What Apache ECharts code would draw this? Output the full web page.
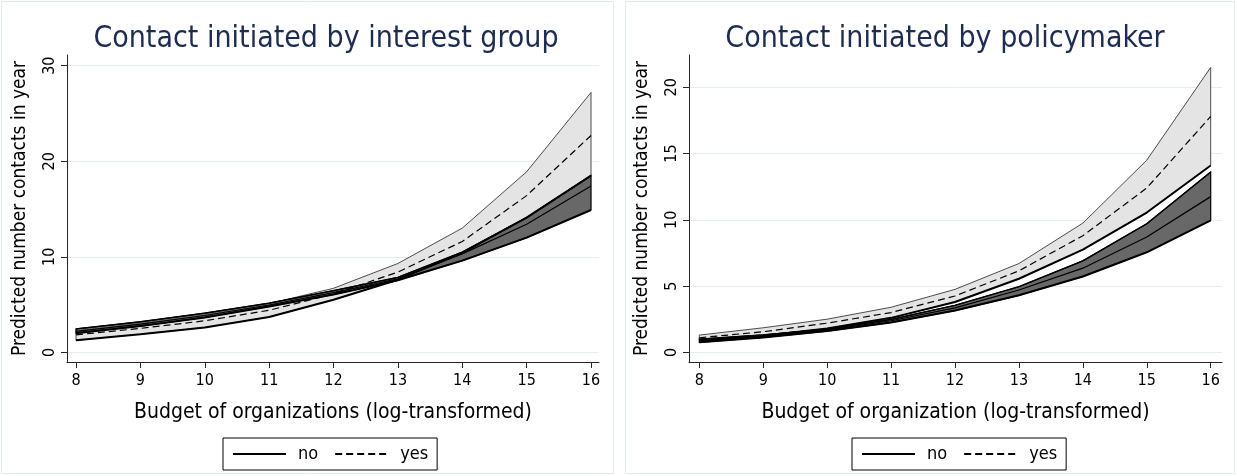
<!DOCTYPE html>
<html><head><meta charset="utf-8">
<script src="https://cdn.jsdelivr.net/npm/echarts@6/dist/echarts.min.js"></script>
<style>html,body{margin:0;padding:0;background:#fff}#c{width:1237px;height:476px}</style>
</head><body><div id="c"></div>
<script>
// ---- data ----
const budget = [8, 9, 10, 11, 12, 13, 14, 15, 16];
const xTicks = [8, 9, 10, 11, 12, 13, 14, 15, 16];
const yTicksLeft = [0, 10, 20, 30];
const yTicksRight = [0, 5, 10, 15, 20];
const titles = ['Contact initiated by interest group', 'Contact initiated by policymaker'];
const xNames = ['Budget of organizations (log-transformed)', 'Budget of organization (log-transformed)'];
const yName = 'Predicted number contacts in year';
const legendNames = ['no', 'yes'];

// Left panel: contact initiated by interest group
const igYesHi  = [2.4, 3.15, 4.05, 5.1, 6.7, 9.3, 13.0, 18.9, 27.2];
const igYesMid = [1.83, 2.5, 3.3, 4.4, 6.1, 8.4, 11.6, 16.4, 22.7];
const igYesLo  = [1.25, 1.9, 2.6, 3.7, 5.5, 7.6, 10.4, 14.1, 18.5];
const igNoHi   = [2.45, 3.2, 4.1, 5.15, 6.45, 7.85, 10.5, 14.1, 18.5];
const igNoMid  = [2.2, 2.95, 3.85, 4.95, 6.25, 7.7, 10.3, 13.4, 17.4];
const igNoLo   = [2.0, 2.75, 3.65, 4.8, 6.05, 7.55, 9.6, 12.0, 14.9];

// Right panel: contact initiated by policymaker
const pmYesHi  = [1.3, 1.85, 2.5, 3.4, 4.75, 6.7, 9.75, 14.5, 21.5];
const pmYesMid = [1.1, 1.55, 2.2, 3.0, 4.25, 6.15, 8.8, 12.4, 17.8];
const pmYesLo  = [0.9, 1.25, 1.8, 2.6, 3.8, 5.55, 7.75, 10.55, 14.1];
const pmNoHi   = [1.0, 1.32, 1.75, 2.48, 3.55, 4.95, 6.9, 9.7, 13.6];
const pmNoMid  = [0.87, 1.22, 1.68, 2.38, 3.35, 4.7, 6.35, 8.7, 11.75];
const pmNoLo   = [0.75, 1.12, 1.6, 2.25, 3.15, 4.3, 5.72, 7.55, 9.95];

// ---- styling ----
const FONT = "'DejaVu Sans Condensed', 'Liberation Sans Narrow', sans-serif";
const LIGHT = '#e4e4e4', DARK = '#686868', AXIS = '#262626', GRID = '#e4edf0', NAVY = '#1d2c50';

function band(g, lo, hi, fill, stroke, lw, z) {
  return {
    type: 'custom', xAxisIndex: g, yAxisIndex: g, z, silent: true, clip: false,
    data: [[budget[0], lo[0]]],
    renderItem(params, api) {
      const pts = budget.map((x, i) => api.coord([x, hi[i]]));
      for (let i = budget.length - 1; i >= 0; i--) pts.push(api.coord([budget[i], lo[i]]));
      return { type: 'polygon', shape: { points: pts },
        style: { fill, stroke, lineWidth: lw, lineJoin: 'miter' } };
    }
  };
}
function line(g, name, vals, width, type, z) {
  return {
    type: 'line', name, xAxisIndex: g, yAxisIndex: g, z, silent: true,
    data: budget.map((x, i) => [x, vals[i]]),
    symbol: 'none', showSymbol: false,
    lineStyle: { color: '#000', width, type },
    itemStyle: { color: '#000' }
  };
}
function panelSeries(g, yHi, yMid, yLo, nHi, nMid, nLo) {
  return [
    band(g, yLo, yHi, LIGHT, '#3a3a3a', 0.9, 2),
    band(g, nLo, nHi, DARK, '#000', 1.2, 3),
    line(g, 'edgeA', yLo, 2, 'solid', 4),
    line(g, 'edgeB', nHi, 1.3, 'solid', 4),
    line(g, 'edgeC', nLo, 2, 'solid', 4),
    line(g, 'no', nMid, 1.2, 'solid', 5),
    line(g, 'yes', yMid, 1.2, [7, 4], 5)
  ];
}

const grids = [
  { left: 67, top: 55, width: 532, height: 307 },
  { left: 689, top: 55, width: 533, height: 307 }
];
const xRanges = [[7.860, 16.124], [7.839, 16.177]];
const yRanges = [[-1.015, 31.12], [-0.732, 22.44]];
const yTickSets = [yTicksLeft, yTicksRight];
const splitN = [3, 4];

const xAxes = [0, 1].map(g => ({
  type: 'value', gridIndex: g, min: xRanges[g][0], max: xRanges[g][1],
  name: xNames[g], nameLocation: 'middle', nameGap: 40,
  nameTextStyle: { fontFamily: FONT, fontSize: 21, color: '#000' },
  axisLine: { show: true, onZero: false, lineStyle: { color: AXIS, width: 1 } },
  axisTick: { show: true, length: 6, customValues: xTicks, lineStyle: { color: AXIS } },
  axisLabel: { customValues: xTicks, margin: 11, fontFamily: FONT, fontSize: 16, color: '#000' },
  splitLine: { show: false }
}));
const yAxes = [0, 1].map(g => ({
  type: 'value', gridIndex: g, min: yRanges[g][0], max: yRanges[g][1], splitNumber: splitN[g],
  name: yName, nameLocation: 'middle', nameGap: 37, nameRotate: 90,
  nameTextStyle: { fontFamily: FONT, fontSize: 19, color: '#000' },
  axisLine: { show: true, onZero: false, lineStyle: { color: AXIS, width: 1 } },
  axisTick: { show: true, length: 6, customValues: yTickSets[g], lineStyle: { color: AXIS } },
  axisLabel: { rotate: 90, margin: 9, fontFamily: FONT, fontSize: 16, color: '#000',
    formatter: v => (yTickSets[g].indexOf(v) >= 0 ? String(v) : '') },
  splitLine: { show: true, lineStyle: { color: GRID, width: 1 } }
}));

const legendBase = {
  data: legendNames, orient: 'horizontal', top: 438,
  itemWidth: 53, itemHeight: 16, itemGap: 16,
  borderColor: '#000', borderWidth: 1, borderRadius: 0, padding: [7, 9, 7, 9],
  backgroundColor: '#fff', selectedMode: false,
  itemStyle: { color: 'rgba(0,0,0,0)', borderColor: 'rgba(0,0,0,0)', borderWidth: 0 },
  textStyle: { fontFamily: FONT, fontSize: 18, color: '#000', padding: [0, 0, 0, 7] }
};

const option = {
  animation: false,
  backgroundColor: '#fff',
  title: [
    { text: titles[0], left: 326, top: 24, textAlign: 'center', padding: 0,
      textStyle: { fontFamily: FONT, fontSize: 30, fontWeight: 'normal', color: NAVY } },
    { text: titles[1], left: 945, top: 24, textAlign: 'center', padding: 0,
      textStyle: { fontFamily: FONT, fontSize: 30, fontWeight: 'normal', color: NAVY } }
  ],
  legend: [
    Object.assign({}, legendBase, { left: 223 }),
    Object.assign({}, legendBase, { left: 852 })
  ],
  grid: grids,
  xAxis: xAxes,
  yAxis: yAxes,
  graphic: [
    { type: 'rect', silent: true, shape: { x: 1.5, y: 1.5, width: 612, height: 472 },
      style: { fill: 'none', stroke: '#e3eaee', lineWidth: 1 } },
    { type: 'rect', silent: true, shape: { x: 625.5, y: 1.5, width: 609, height: 472 },
      style: { fill: 'none', stroke: '#e3eaee', lineWidth: 1 } }
  ],
  series: [].concat(
    panelSeries(0, igYesHi, igYesMid, igYesLo, igNoHi, igNoMid, igNoLo),
    panelSeries(1, pmYesHi, pmYesMid, pmYesLo, pmNoHi, pmNoMid, pmNoLo)
  )
};
const chart = echarts.init(document.getElementById('c'), null, { renderer: 'canvas' });
chart.setOption(option);
</script>
</body></html>
